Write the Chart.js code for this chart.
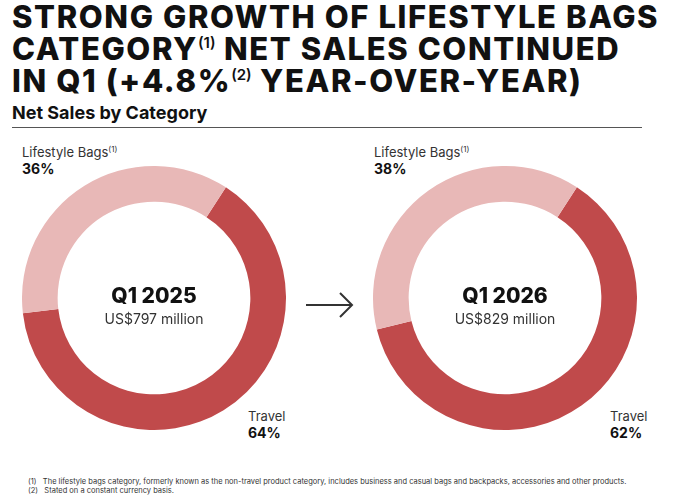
<!DOCTYPE html>
<html>
<head>
<script src="https://cdn.jsdelivr.net/npm/chart.js"></script>
<style>
  body { margin: 0; width: 680px; height: 500px; background: #fff; font-family: Inter, "Noto Sans", sans-serif; color: #111; position: relative; overflow: hidden; }
  h1 { position: absolute; left: 12px; top: 1px; margin: 0; font-size: 31px; line-height: 32px; font-weight: 800; letter-spacing: 1.6px; white-space: nowrap; }
  h1 sup { font-size: 15px; font-weight: 600; line-height: 0; vertical-align: 12px; letter-spacing: 0; }
  h2 { position: absolute; left: 12px; top: 102px; margin: 0; font-size: 18px; font-weight: 700; }
  .rule { position: absolute; left: 12px; top: 127px; width: 630px; border-top: 1px solid #555; }
  .lbl { position: absolute; font-size: 13px; color: #333; }
  .lbl b { display: block; font-size: 14px; color: #111; }
  .lbl sup { font-size: 8px; }
  .chart { position: absolute; top: 166px; width: 264px; height: 264px; }
  .center { position: absolute; top: 283px; width: 264px; text-align: center; }
  .center .q { font-size: 21px; font-weight: 800; }
  .center .v { font-size: 14px; color: #333; margin-top: 2px; }
  .notes { position: absolute; left: 28px; top: 477px; font-size: 7.5px; color: #333; line-height: 9px; }
</style>
</head>
<body>
<h1>STRONG GROWTH OF LIFESTYLE BAGS<br>CATEGORY<sup>(1)</sup> NET SALES CONTINUED<br>IN Q1 (+4.8%<sup>(2)</sup> YEAR-OVER-YEAR)</h1>
<h2>Net Sales by Category</h2>
<div class="rule"></div>

<div class="lbl" style="left:22px;top:144px">Lifestyle Bags<sup>(1)</sup><b id="l0"></b></div>
<div class="lbl" style="left:374px;top:144px">Lifestyle Bags<sup>(1)</sup><b id="l1"></b></div>
<div class="lbl" style="left:248px;top:408px">Travel<b id="t0"></b></div>
<div class="lbl" style="left:610px;top:408px">Travel<b id="t1"></b></div>

<div class="chart" style="left:22px"><canvas id="c0"></canvas></div>
<div class="chart" style="left:373px"><canvas id="c1"></canvas></div>
<div class="center" style="left:22px"><div class="q" id="q0"></div><div class="v" id="v0"></div></div>
<div class="center" style="left:373px"><div class="q" id="q1"></div><div class="v" id="v1"></div></div>

<svg style="position:absolute;left:304px;top:290px" width="52" height="30">
  <line x1="2" y1="15" x2="48" y2="15" stroke="#333" stroke-width="2"/>
  <polyline points="36,3 48,15 36,27" fill="none" stroke="#333" stroke-width="2"/>
</svg>

<div class="notes">(1)&nbsp;&nbsp;&nbsp;The lifestyle bags category, formerly known as the non-travel product category, includes business and casual bags and backpacks, accessories and other products.<br>(2)&nbsp;&nbsp;&nbsp;Stated on a constant currency basis.</div>

<script>
const categories = ['Travel', 'Lifestyle Bags'];
const quarters = ['Q1 2025', 'Q1 2026'];
const totals = ['US$797 million', 'US$829 million'];
const share2025 = [64, 36];
const share2026 = [62, 38];
const colors = ['#c04a4b', '#e8b8b7'];

[share2025, share2026].forEach((vals, i) => {
  document.getElementById('q' + i).textContent = quarters[i];
  document.getElementById('v' + i).textContent = totals[i];
  document.getElementById('t' + i).textContent = vals[0] + '%';
  document.getElementById('l' + i).textContent = vals[1] + '%';
  new Chart(document.getElementById('c' + i), {
    type: 'doughnut',
    data: { labels: categories, datasets: [{ data: vals, backgroundColor: colors, borderWidth: 0 }] },
    options: {
      responsive: true, maintainAspectRatio: false, animation: false,
      cutout: '73%', rotation: 33,
      plugins: { legend: { display: false }, tooltip: { enabled: false } }
    }
  });
});
</script>
</body>
</html>
